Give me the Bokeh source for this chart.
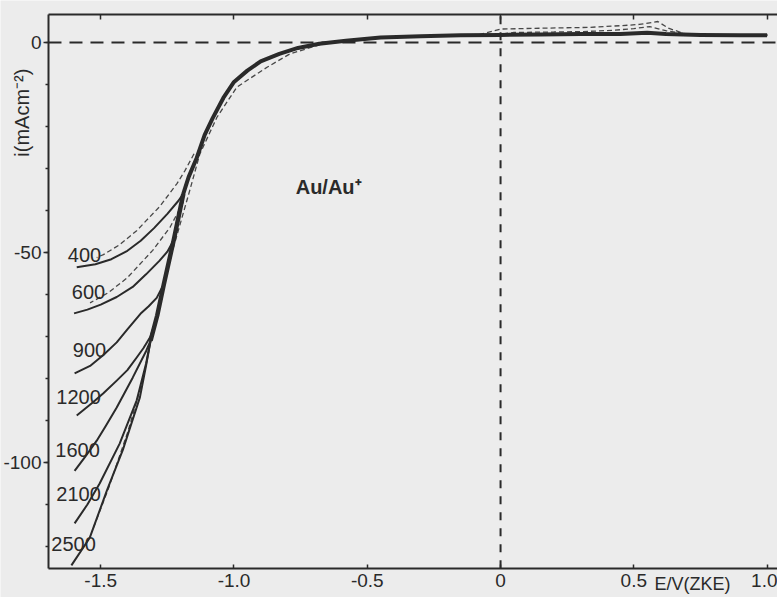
import numpy as np
from bokeh.plotting import figure
from bokeh.models import Range1d, FixedTicker, LinearAxis, Label
from bokeh.embed import file_html
from bokeh.resources import INLINE

# ---------------- data ----------------
rates = ["400", "600", "900", "1200", "1600", "2100", "2500"]

# shared upper branch (E in V vs ZKE, i in mA cm^-2)
E_common = [1.00, 0.90, 0.75, 0.62, 0.55, 0.45, 0.30, 0.15, 0.00, -0.15, -0.30, -0.45,
            -0.58, -0.68, -0.76, -0.83, -0.90, -0.95, -1.00, -1.04, -1.08, -1.11,
            -1.14, -1.17, -1.19]
I_common = [1.7, 1.7, 1.8, 2.0, 2.3, 2.0, 2.0, 1.9, 1.8, 1.7, 1.5, 1.2,
            0.4, -0.3, -1.3, -2.7, -4.5, -6.7, -9.4, -13.2, -18.0, -22.0,
            -27.5, -32.0, -36.0]

# lower branches, from the shared branch to the left end
E_400 = [-1.19, -1.21, -1.25, -1.30, -1.35, -1.40, -1.46, -1.52, -1.59]
I_400 = [-36.0, -37.8, -40.8, -44.2, -47.2, -49.6, -51.6, -52.8, -53.5]

E_600 = [-1.19, -1.226, -1.25, -1.28, -1.33, -1.38, -1.44, -1.50, -1.55, -1.60]
I_600 = [-36.0, -47.0, -49.8, -52.0, -55.2, -58.2, -60.6, -62.4, -63.6, -64.5]

E_900 = [-1.19, -1.226, -1.263, -1.29, -1.32, -1.351, -1.40, -1.44, -1.49, -1.54, -1.598]
I_900 = [-36.0, -47.0, -57.5, -60.8, -62.8, -64.6, -68.3, -71.4, -74.4, -77.0, -78.8]

E_1200 = [-1.19, -1.226, -1.263, -1.288, -1.313, -1.34, -1.365, -1.40, -1.44, -1.49, -1.53, -1.59]
I_1200 = [-36.0, -47.0, -57.5, -65.0, -70.0, -72.8, -75.0, -78.0, -80.5, -83.5, -85.7, -88.8]

E_1600 = [-1.19, -1.226, -1.263, -1.288, -1.313, -1.33, -1.38, -1.44, -1.48, -1.515, -1.56, -1.598]
I_1600 = [-36.0, -47.0, -57.5, -65.0, -71.0, -73.5, -79.8, -86.9, -91.2, -94.8, -98.8, -102.0]

E_2100 = [-1.19, -1.226, -1.263, -1.288, -1.313, -1.33, -1.365, -1.429, -1.504, -1.55, -1.598]
I_2100 = [-36.0, -47.0, -57.5, -65.0, -71.0, -76.5, -85.2, -95.5, -105.0, -110.0, -114.5]

E_2500 = [-1.19, -1.226, -1.263, -1.288, -1.313, -1.33, -1.353, -1.417, -1.477, -1.541, -1.61]
I_2500 = [-36.0, -47.0, -57.5, -65.0, -71.0, -77.0, -84.5, -97.0, -106.7, -117.9, -124.5]

# thin dashed companion curves
E_d400 = [-1.15, -1.184, -1.214, -1.278, -1.365, -1.43, -1.49, -1.515]
I_d400 = [-26.5, -30.5, -33.6, -39.0, -44.8, -48.2, -50.5, -51.2]

E_d600 = [-1.19, -1.24, -1.305, -1.40, -1.47, -1.54]
I_d600 = [-38.0, -44.0, -49.5, -56.0, -59.5, -62.0]

E_dmain = [-0.677, -0.79, -0.876, -0.989, -1.064, -1.128, -1.165, -1.21, -1.26]
I_dmain = [-0.5, -2.7, -5.9, -10.6, -17.8, -26.5, -35.0, -45.0, -56.0]

E_d2500 = [-1.34, -1.40, -1.47, -1.53]
I_d2500 = [-80.0, -93.0, -106.0, -116.0]

E_an1 = [-0.08, 0.00, 0.15, 0.33, 0.45, 0.52, 0.59, 0.63, 0.69, 0.75]
I_an1 = [1.9, 3.2, 3.4, 3.6, 4.0, 4.3, 5.0, 3.4, 2.1, 1.9]

E_an2 = [-0.05, 0.05, 0.20, 0.31, 0.42, 0.50, 0.56, 0.62, 0.70]
I_an2 = [1.6, 2.4, 2.5, 2.6, 2.9, 3.3, 3.8, 2.8, 2.0]

x_ticks = [-1.5, -1.0, -0.5, 0.0, 0.5, 1.0]
x_tick_labels = ["-1.5", "-1.0", "-0.5", "0", "0.5", "1.0"]
y_ticks = [0, -50, -100]
y_tick_labels = ["0", "-50", "-100"]
y_minor = [0, -10, -20, -30, -40, -50, -60, -70, -80, -90, -100, -110, -120]

# plotted box of the original diagram (data units)
E_lo, E_hi = -1.696, 1.039
I_lo, I_hi = -125.2, 6.67

# ---------------- figure ----------------
INK = "#2a2a2a"
BG = "#ececec"
FONT = "Liberation Sans"

p = figure(width=777, height=597, output_backend="svg", toolbar_location=None,
           x_range=Range1d(-1.876, 1.039), y_range=Range1d(-132.14, 10.0),
           min_border=0, min_border_left=0, min_border_right=0,
           min_border_top=0, min_border_bottom=0,
           x_axis_location=None, y_axis_location=None)
p.background_fill_color = BG
p.border_fill_color = BG
p.outline_line_color = None
p.grid.visible = False

# axes, drawn at the edges of the original box
bottom = LinearAxis(ticker=FixedTicker(ticks=x_ticks, minor_ticks=[]),
                    fixed_location=I_lo, bounds=(E_lo, E_hi))
bottom.major_label_overrides = {t: s for t, s in zip(x_ticks, x_tick_labels)}
top = LinearAxis(ticker=FixedTicker(ticks=x_ticks, minor_ticks=[]),
                 fixed_location=I_hi, bounds=(E_lo, E_hi))
top.major_label_overrides = {t: "" for t in x_ticks}
top.major_label_text_alpha = 0
left = LinearAxis(ticker=FixedTicker(ticks=y_ticks, minor_ticks=y_minor),
                  fixed_location=E_lo, bounds=(I_lo, I_hi))
left.major_label_overrides = {t: s for t, s in zip(y_ticks, y_tick_labels)}

for ax in (bottom, top, left):
    ax.axis_line_color = INK
    ax.axis_line_width = 2
    ax.major_tick_line_color = INK
    ax.major_tick_line_width = 1.5
    ax.minor_tick_line_color = INK
    ax.minor_tick_line_width = 1.5
    ax.major_label_text_color = INK
    ax.major_label_text_font = FONT
    ax.major_label_standoff = 2

bottom.major_tick_in = 4
bottom.major_tick_out = 0
bottom.major_label_text_font_size = "19px"
bottom.major_label_standoff = 6
top.major_tick_in = 5
top.major_tick_out = 0
left.major_tick_in = 0
left.major_tick_out = 5
left.minor_tick_in = 0
left.minor_tick_out = 3
left.major_label_text_font_size = "19px"

p.add_layout(left, "left")
p.add_layout(bottom, "below")
p.add_layout(top, "above")

# reference lines i = 0 and E = 0
p.line([E_lo, E_hi], [0, 0], line_color=INK, line_width=2, line_dash="13 8")
p.line([0, 0], [I_lo, I_hi], line_color=INK, line_width=2, line_dash="8 8")

# dashed companion curves
for ex, iy in [(E_d400, I_d400), (E_d600, I_d600), (E_dmain, I_dmain),
               (E_d2500, I_d2500), (E_an1, I_an1), (E_an2, I_an2)]:
    p.line(ex, iy, line_color=INK, line_width=1.3, line_dash="5 3", line_alpha=0.85)

# solid curves
lowers = [(E_400, I_400), (E_600, I_600), (E_900, I_900), (E_1200, I_1200),
          (E_1600, I_1600), (E_2100, I_2100), (E_2500, I_2500)]
for ex, iy in lowers:
    p.line(list(E_common) + list(ex[1:]), list(I_common) + list(iy[1:]),
           line_color=INK, line_width=2, line_join="round")

# thick common bundle
p.line(E_common, I_common, line_color=INK, line_width=4, line_join="round")
p.line(E_2500[:5], I_2500[:5], line_color=INK, line_width=4.5, line_join="round")

# curve labels (rotation rates)
label_pos = [(-1.561, -50.7), (-1.546, -59.3), (-1.542, -73.3), (-1.583, -84.5),
             (-1.587, -97.1), (-1.583, -107.6), (-1.602, -119.5)]
for r, (lx, ly) in zip(rates, label_pos):
    p.add_layout(Label(x=lx, y=ly, text=r, text_align="center", text_baseline="middle",
                       text_font=FONT, text_font_size="20px", text_color=INK))

p.add_layout(Label(x=-0.645, y=-34.5, text="Au/Au\u207a", text_align="center",
                   text_baseline="middle", text_font=FONT, text_font_size="20px",
                   text_color=INK, text_font_style="bold"))

# axis titles
p.add_layout(Label(x=-1.794, y=-16.7, text="i(mAcm\u207b\u00b2)", angle=np.pi / 2,
                   text_align="center", text_baseline="middle", text_font=FONT,
                   text_font_size="20px", text_color=INK))
p.add_layout(Label(x=0.72, y=-128.9, text="E/V(ZKE)", text_align="center",
                   text_baseline="middle", text_font=FONT, text_font_size="18px",
                   text_color=INK))

open("out.html", "w").write(file_html(p, INLINE))
